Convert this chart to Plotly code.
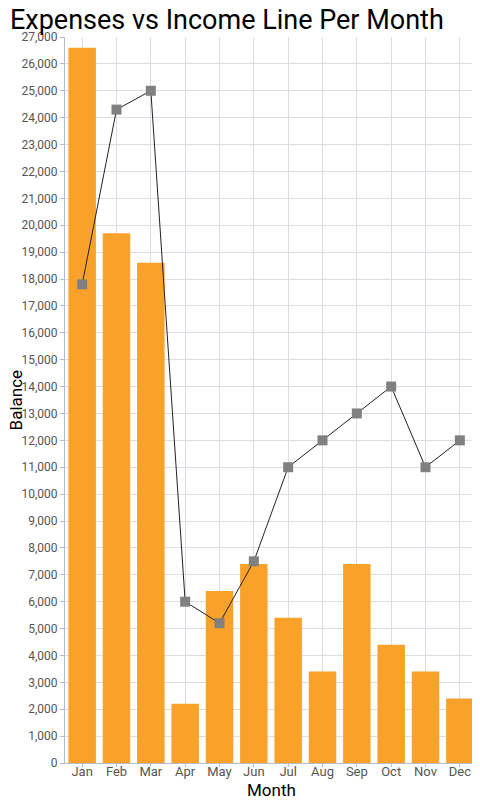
import plotly.graph_objects as go

# monthly data
months = ["Jan", "Feb", "Mar", "Apr", "May", "Jun",
          "Jul", "Aug", "Sep", "Oct", "Nov", "Dec"]
expenses = [26600, 19700, 18600, 2200, 6400, 7400,
            5400, 3400, 7400, 4400, 3400, 2400]
income = [17800, 24300, 25000, 6000, 5200, 7500,
          11000, 12000, 13000, 14000, 11000, 12000]

fig = go.Figure()

# expenses as bars
fig.add_trace(go.Bar(
    x=months,
    y=expenses,
    name="Expenses",
    marker=dict(color="#F8A22B", line=dict(width=0)),
))

# income as line with square markers
fig.add_trace(go.Scatter(
    x=months,
    y=income,
    name="Income",
    mode="lines+markers",
    line=dict(color="#222222", width=1),
    marker=dict(symbol="square", size=10, color="#808080"),
))

# page body adds an 8px offset, so margins are shifted to compensate
fig.update_layout(
    width=480,
    height=800,
    margin=dict(l=57, r=11, t=29, b=45, autoexpand=False),
    paper_bgcolor="white",
    plot_bgcolor="white",
    showlegend=False,
    bargap=0.2,
    font=dict(family="Roboto", color="#555555", size=13),
    title=dict(
        text="Expenses vs Income Line Per Month",
        x=0.456, xanchor="center",
        y=0.985, yanchor="middle",
        font=dict(family="Roboto", size=27, color="#000000"),
    ),
    annotations=[
        dict(text="Month", xref="paper", yref="paper", x=0.5, y=-0.037,
             xanchor="center", yanchor="middle", showarrow=False,
             font=dict(size=17, color="#000000")),
        dict(text="Balance", xref="paper", yref="paper", x=-0.118, y=0.5,
             xanchor="center", yanchor="middle", showarrow=False,
             textangle=-90, font=dict(size=17, color="#000000")),
    ],
)

fig.update_xaxes(
    range=[-0.5, len(months) - 0.5],
    showgrid=True,
    gridcolor="#dcdce4",
    showline=True,
    linecolor="#b4bccc",
    ticks="outside",
    ticklen=3,
    tickcolor="#b4bccc",
    ticklabelstandoff=-7,
    automargin=False,
)

fig.update_yaxes(
    range=[0, 27000],
    dtick=1000,
    tickformat=",",
    tickfont=dict(size=12),
    showgrid=True,
    gridcolor="#dcdce4",
    zeroline=False,
    showline=True,
    linecolor="#b4bccc",
    ticks="outside",
    ticklen=4,
    tickcolor="#b4bccc",
    automargin=False,
)

fig.write_html("out.html")
